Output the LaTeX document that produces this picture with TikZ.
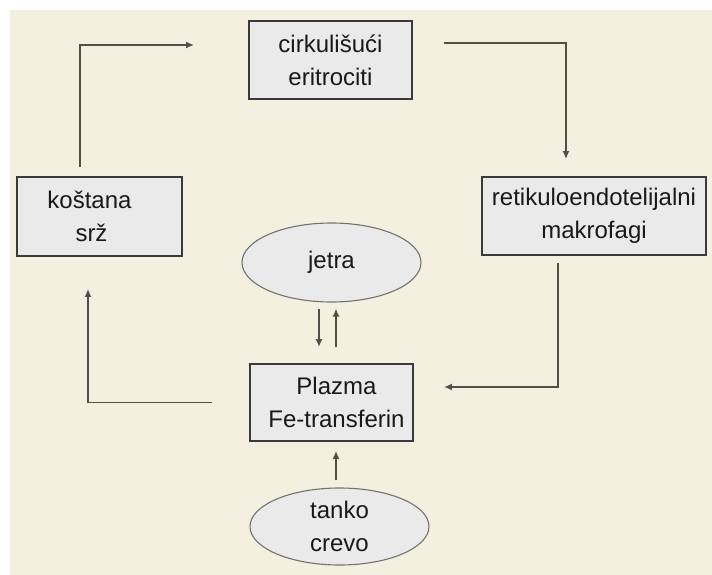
\documentclass[tikz,border=0pt]{standalone}
\usepackage{fontspec}
\setmainfont{Liberation Sans}
\usetikzlibrary{shapes.geometric,arrows.meta}
\definecolor{bgc}{HTML}{F4F0DF}
\definecolor{boxfill}{HTML}{EAEAEA}
\definecolor{boxline}{HTML}{3A3A3A}
\definecolor{linec}{HTML}{50504A}
\tikzset{
  boxnode/.style={draw=boxline, line width=1.9pt, fill=boxfill, rectangle, inner sep=0pt, align=center, font=\fontsize{24}{33}\selectfont, text=black!90},
  ellnode/.style={draw=linec!80, line width=1.1pt, fill=boxfill, ellipse, inner sep=0pt, align=center, font=\fontsize{24}{33}\selectfont, text=black!90},
  arr/.style={draw=linec, line width=1.9pt, -{Latex[length=8pt,width=7pt]}}
}
\begin{document}
\begin{tikzpicture}[x=1pt,y=-1pt]
\useasboundingbox (0,0) rectangle (712,575);
\fill[bgc] (10,10) rectangle (712,575);
\node[boxnode, minimum width=163pt, minimum height=78pt] (cirk) at (330.5,60) {cirkulišući\\eritrociti};
\node[boxnode, minimum width=165pt, minimum height=79pt] (kos) at (99.5,216.5) {koštana\hspace*{20pt}\\srž\hspace*{16pt}};
\node[boxnode, minimum width=224pt, minimum height=78pt] (ret) at (594,216) {retikuloendotelijalni\\makrofagi};
\node[ellnode, minimum width=179pt, minimum height=79pt] (jet) at (331.5,262.5) {jetra};
\node[boxnode, minimum width=163pt, minimum height=77pt] (pl) at (331.5,402.5) {\hspace*{10pt}Plazma\\\hspace*{10pt}Fe-transferin};
\node[ellnode, minimum width=179pt, minimum height=77pt] (tan) at (339.5,526.5) {tanko\\crevo};
\draw[arr, shorten <=9pt, shorten >=54pt] ([xshift=-19.5pt]kos.north) |- ([yshift=15pt]cirk.west);
\draw[arr, shorten <=31pt, shorten >=17pt] ([yshift=17pt]cirk.east) -| ([xshift=-28pt]ret.north);
\draw[arr, shorten <=7pt, shorten >=30pt] ([xshift=-36pt]ret.south) |- ([yshift=15.5pt]pl.east);
\draw[arr, shorten <=37pt, shorten >=32pt] (pl.west) -| ([xshift=-11.5pt]kos.south);
\draw[arr, shorten <=6pt, shorten >=16pt] ([xshift=-12.5pt]jet.south) -- ([xshift=-12.5pt]pl.north);
\draw[arr, shorten <=16pt, shorten >=6pt] ([xshift=4.5pt]pl.north) -- ([xshift=4.5pt]jet.south);
\draw[arr, shorten <=7pt, shorten >=9pt] ([xshift=4.5pt]pl.south |- tan.north) -- ([xshift=4.5pt]pl.south);
\end{tikzpicture}
\end{document}
